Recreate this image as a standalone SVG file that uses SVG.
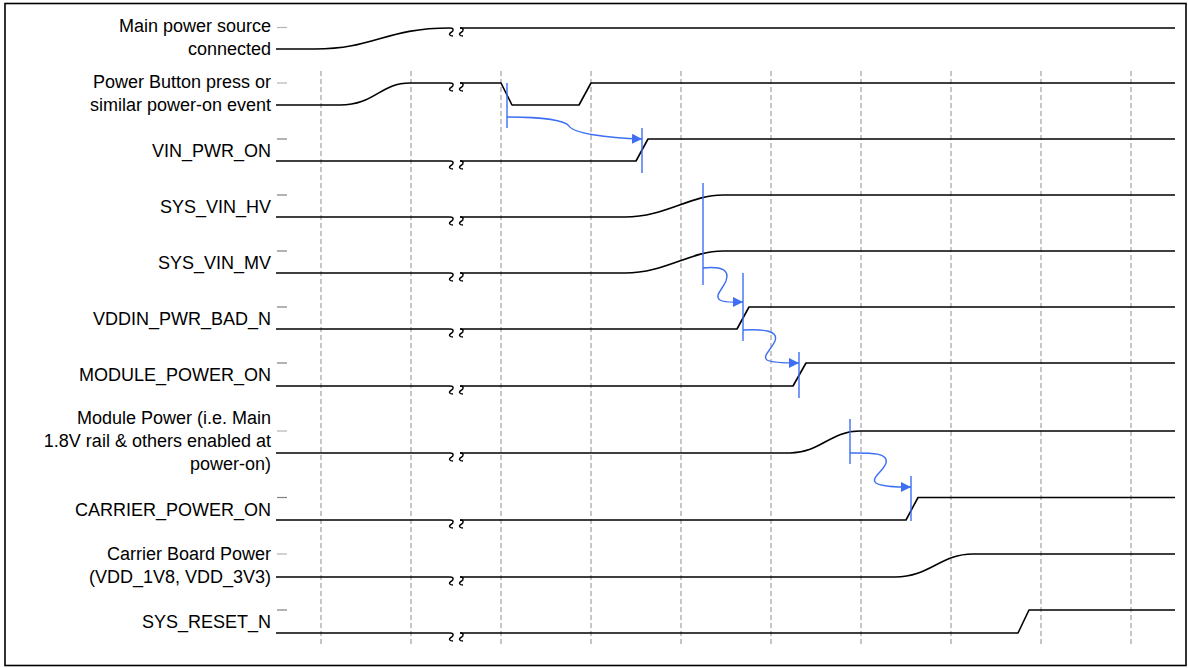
<svg xmlns="http://www.w3.org/2000/svg" width="1188" height="668" viewBox="0 0 1188 668">
<style>
.lbl{font-family:"Liberation Sans",Arial,sans-serif;font-size:18px;fill:#000;text-anchor:end}
.sig{fill:none;stroke:#000;stroke-width:1.6;stroke-linejoin:round}
.brk{fill:none;stroke:#000;stroke-width:1.4}
.grid{stroke:#8c8c8c;stroke-width:1;stroke-dasharray:5,3}
.tl{stroke:#b4b4b4;stroke-width:1.2}
.td{stroke:#808080;stroke-width:1.2}
.bl{fill:none;stroke:#3d6ef5;stroke-width:1.4}
.bv{stroke:#3d6ef5;stroke-width:1.4}
</style>
<defs>
<marker id="ah" markerWidth="10" markerHeight="10" refX="10" refY="5" orient="auto" markerUnits="userSpaceOnUse">
<path d="M0,0 L10,5 L0,10 Z" fill="#3d6ef5"/>
</marker>
<g id="brkSym">
<path class="brk" d="M0,0 C4,0 4,3 1,4.5 C-2,6 0,8 3,8"/>
<path class="brk" d="M10,0 C14,0 14,3 11,4.5 C8,6 10,8 13,8"/>
</g>
</defs>
<rect x="5" y="3.5" width="1181" height="662" fill="#fff" stroke="#000" stroke-width="1.6"/>
<g id="grid">
<line class="grid" x1="321" y1="71" x2="321" y2="645"/>
<line class="grid" x1="411" y1="71" x2="411" y2="645"/>
<line class="grid" x1="501" y1="71" x2="501" y2="645"/>
<line class="grid" x1="591" y1="71" x2="591" y2="645"/>
<line class="grid" x1="681" y1="71" x2="681" y2="645"/>
<line class="grid" x1="771" y1="71" x2="771" y2="645"/>
<line class="grid" x1="861" y1="71" x2="861" y2="645"/>
<line class="grid" x1="951" y1="71" x2="951" y2="645"/>
<line class="grid" x1="1041" y1="71" x2="1041" y2="645"/>
<line class="grid" x1="1131" y1="71" x2="1131" y2="645"/>
</g>
<g id="main-power">
<text class="lbl" x="271" y="32">Main power source</text>
<text class="lbl" x="271" y="55">connected</text>
<line class="tl" x1="277" y1="27.5" x2="287" y2="27.5"/>
<path class="sig" d="M276,49 L315,49 C375,49 385,28 450,28"/>
<use href="#brkSym" x="450" y="28"/>
<path class="sig" d="M460,28 L1175,28"/>
</g>
<g id="power-button">
<text class="lbl" x="271" y="88">Power Button press or</text>
<text class="lbl" x="271" y="111">similar power-on event</text>
<line class="tl" x1="277" y1="83" x2="287" y2="83"/>
<path class="sig" d="M276,105 L340,105 C375,105 380,83 410,83 L450,83"/>
<use href="#brkSym" x="450" y="83"/>
<path class="sig" d="M460,83 L501,83 L512,105 L579,105 L591,83 L1175,83"/>
</g>
<g id="vin-pwr-on">
<text class="lbl" x="271" y="157">VIN_PWR_ON</text>
<line class="td" x1="277" y1="139" x2="287" y2="139"/>
<path class="sig" d="M276,161 L450,161"/>
<use href="#brkSym" x="450" y="161"/>
<path class="sig" d="M460,161 L636,161 L648,139 L1175,139"/>
</g>
<g id="sys-vin-hv">
<text class="lbl" x="271" y="213">SYS_VIN_HV</text>
<line class="td" x1="277" y1="195" x2="287" y2="195"/>
<path class="sig" d="M276,217 L450,217"/>
<use href="#brkSym" x="450" y="217"/>
<path class="sig" d="M460,217 L625,217 C665,217 690,195 723,195 L1175,195"/>
</g>
<g id="sys-vin-mv">
<text class="lbl" x="271" y="269">SYS_VIN_MV</text>
<line class="td" x1="277" y1="251" x2="287" y2="251"/>
<path class="sig" d="M276,273 L450,273"/>
<use href="#brkSym" x="450" y="273"/>
<path class="sig" d="M460,273 L625,273 C665,273 690,251 723,251 L1175,251"/>
</g>
<g id="vddin-pwr-bad-n">
<text class="lbl" x="271" y="325">VDDIN_PWR_BAD_N</text>
<line class="td" x1="277" y1="307" x2="287" y2="307"/>
<path class="sig" d="M276,329 L450,329"/>
<use href="#brkSym" x="450" y="329"/>
<path class="sig" d="M460,329 L737,329 L749,307 L1175,307"/>
</g>
<g id="module-power-on">
<text class="lbl" x="271" y="381">MODULE_POWER_ON</text>
<line class="td" x1="277" y1="363" x2="287" y2="363"/>
<path class="sig" d="M276,386 L450,386"/>
<use href="#brkSym" x="450" y="386"/>
<path class="sig" d="M460,386 L793,386 L806,363 L1175,363"/>
</g>
<g id="module-power">
<text class="lbl" x="271" y="424">Module Power (i.e. Main</text>
<text class="lbl" x="271" y="447">1.8V rail &amp; others enabled at</text>
<text class="lbl" x="271" y="470">power-on)</text>
<line class="tl" x1="277" y1="431" x2="287" y2="431"/>
<path class="sig" d="M276,453 L450,453"/>
<use href="#brkSym" x="450" y="453"/>
<path class="sig" d="M460,453 L790,453 C820,453 830,431 860,431 L1175,431"/>
</g>
<g id="carrier-power-on">
<text class="lbl" x="271" y="516">CARRIER_POWER_ON</text>
<line class="td" x1="277" y1="497.5" x2="287" y2="497.5"/>
<path class="sig" d="M276,520 L450,520"/>
<use href="#brkSym" x="450" y="520"/>
<path class="sig" d="M460,520 L906,520 L918,497.5 L1175,497.5"/>
</g>
<g id="carrier-board-power">
<text class="lbl" x="271" y="560">Carrier Board Power</text>
<text class="lbl" x="271" y="583">(VDD_1V8, VDD_3V3)</text>
<line class="tl" x1="277" y1="554" x2="287" y2="554"/>
<path class="sig" d="M276,577 L450,577"/>
<use href="#brkSym" x="450" y="577"/>
<path class="sig" d="M460,577 L895,577 C930,577 940,554 973,554 L1175,554"/>
</g>
<g id="sys-reset-n">
<text class="lbl" x="271" y="628">SYS_RESET_N</text>
<line class="td" x1="277" y1="610" x2="287" y2="610"/>
<path class="sig" d="M276,633 L450,633"/>
<use href="#brkSym" x="450" y="633"/>
<path class="sig" d="M460,633 L1018,633 L1029,610 L1175,610"/>
</g>
<g id="connectors">
<line class="bv" x1="507" y1="83" x2="507" y2="128"/>
<line class="bv" x1="642" y1="128" x2="642" y2="173"/>
<line class="bv" x1="703" y1="183" x2="703" y2="285"/>
<line class="bv" x1="743" y1="273" x2="743" y2="341"/>
<line class="bv" x1="799" y1="352" x2="799" y2="398"/>
<line class="bv" x1="850" y1="419" x2="850" y2="464"/>
<line class="bv" x1="911" y1="476" x2="911" y2="521"/>
<path class="bl" marker-end="url(#ah)" d="M507,117 C545,117 565,121 569,126 C573,133 605,138 642,139"/>
<path class="bl" marker-end="url(#ah)" d="M703,268 C722,266 730,270 726,281 C722,290 714,296 720,300 C725,303 732,302 743,302"/>
<path class="bl" marker-end="url(#ah)" d="M743,330 C762,329 779,330 775,341 C771,350 762,356 767,360 C772,363 785,363 799,363"/>
<path class="bl" marker-end="url(#ah)" d="M850,453 C868,453 889,452 886,463 C883,472 870,478 876,483 C882,487 897,487 911,487"/>
</g>
</svg>
